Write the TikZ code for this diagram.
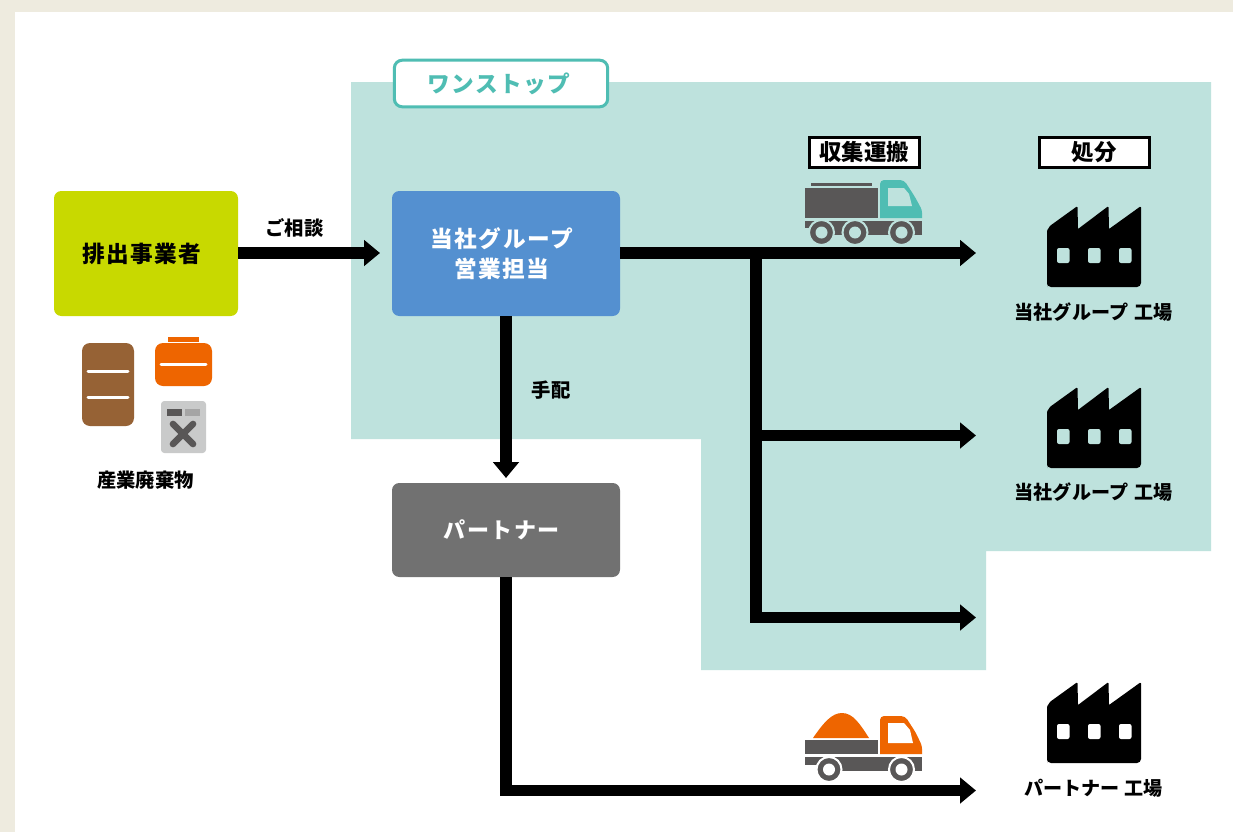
\documentclass[tikz,border=0pt]{standalone}
\usepackage{fontspec}
\usetikzlibrary{arrows.meta,calc}
\setmainfont{Noto Sans CJK JP}
\newfontfamily\wide[LetterSpace=6.5]{Noto Sans CJK JP}
\newcommand\padr{\hspace*{6.5pt}}
\definecolor{bgbeige}{HTML}{EEEBDF}
\definecolor{zone}{HTML}{BEE2DD}
\definecolor{tealc}{HTML}{4FBDB3}
\definecolor{lime}{HTML}{C8D900}
\definecolor{bluebox}{HTML}{5490D0}
\definecolor{graybox}{HTML}{717171}
\definecolor{orangec}{HTML}{EE6500}
\definecolor{brownc}{HTML}{966235}
\definecolor{truckgray}{HTML}{595757}
\definecolor{lightg}{HTML}{C9CACA}
\definecolor{midg}{HTML}{A5A5A5}
\tikzset{
  x=.75pt,y=-.75pt,
  mainbox/.style={rounded corners=5.5pt,inner sep=0pt,font=\wide\bfseries\fontsize{17}{22}\selectfont,align=center},
  tagbox/.style={draw=black,line width=2.25pt,fill=white,inner sep=0pt,minimum width=82.5pt,minimum height=22pt,font=\bfseries\fontsize{16.8}{20}\selectfont},
  flow/.style={line width=8.6pt,draw=black,-{Triangle[length=12pt,width=19pt]}},
  trunk/.style={line width=8.6pt,draw=black},
  lab/.style={font=\bfseries\fontsize{14.5}{17}\selectfont,inner sep=0pt},
  ftext/.style={font=\bfseries\fontsize{14.3}{17}\selectfont,inner sep=0pt},
  pics/factory/.style={code={
    \fill[black] (-47,76) [rounded corners=3pt] -- (-47,26) [rounded corners=4pt] -- (-47,21) [rounded corners=1pt] -- (-16.5,-1) -- (-16,22) [sharp corners] -- (-16,22) [rounded corners=1pt] -- (14.5,-1) -- (15,22) [sharp corners] -- (15,22) [rounded corners=1pt] -- (47,-1) [rounded corners=3pt] -- (47,80) -- (-47,80) -- cycle;
    \foreach \wx in {-37,-6,25}{\fill[#1,rounded corners=1.5pt] (\wx,41) rectangle ++(12.5,15);}
  }},
  wheel/.style={circle,fill=truckgray,draw=#1,line width=1.5pt,minimum size=18.75pt,inner sep=0pt},
}
\begin{document}
\begin{tikzpicture}
\useasboundingbox (0,0) rectangle (1233,832);
\fill[bgbeige] (0,0) rectangle (1233,832);
\fill[white] (15,12) rectangle (1233,832);
\fill[zone] (351,82) -- (1211,82) -- (1211,551) -- (986,551) -- (986,670) -- (701,670) -- (701,439) -- (351,439) -- cycle;

% boxes
\node[mainbox,fill=lime,text=black,minimum width=138pt,minimum height=93.75pt] (gen) at (146,253.5) {排出事業者\padr};
\node[mainbox,fill=bluebox,text=white,minimum width=171pt,minimum height=93.75pt] (sales) at (506,253.5) {当社グループ\padr\\営業担当\padr};
\node[mainbox,fill=graybox,text=white,minimum width=171pt,minimum height=70.5pt,font=\wide\bfseries\fontsize{16.5}{22}\selectfont] (partner) at (506,530) {パートナー\padr};
\node[draw=tealc,line width=2.25pt,fill=white,rounded corners=6pt,inner sep=0pt,minimum width=160pt,minimum height=35pt,text=tealc,font=\wide\bfseries\fontsize{17}{20}\selectfont] (onestop) at (501,83.5) {ワンストップ\hspace*{3.5pt}};
\node[tagbox] (tagc) at (864,152.5) {収集運搬};
\node[tagbox] (tagd) at (1094,152.5) {処分};

% connector targets
\coordinate (f1) at (976,253);
\coordinate (f2) at (976,435.5);
\coordinate (f3) at (976,617.5);
\coordinate (f4) at (976,790.5);
\coordinate (branch) at (756,253);
\coordinate (pcorner) at (506,790.5);

% connectors
\draw[flow] (gen.east |- f1) -- (380,253);
\draw[flow] (sales.east |- f1) -- (f1);
\draw[flow] (sales.south) -- (506,478);
\draw[flow] (branch |- f2) -- (f2);
\draw[trunk] (branch) -- ($(branch |- f3)+(0,5.7)$);
\draw[flow] (branch |- f3) -- (f3);
\draw[trunk] (partner.south) -- ($(pcorner)+(0,5.7)$);
\draw[flow] (pcorner) -- (f4);

% labels
\node[lab] (l1) at (294.5,228) {ご相談};
\node[lab] (l2) at (551,390) {手配};
\node[lab] (l3) at (145.5,480) {産業廃棄物};
\node[ftext] (t1) at (1093.5,312) {当社グループ\hspace{1.2pt} 工場};
\node[ftext] (t2) at (1093.5,492.5) {当社グループ\hspace{1.2pt} 工場};
\node[ftext] (t3) at (1093.5,788) {パートナー 工場};

% factories
\pic at (1094,207) {factory=zone};
\pic at (1094,388) {factory=zone};
\pic at (1094,683) {factory=white};

% waste icons
\fill[brownc,rounded corners=6pt] (82,343) rectangle (134,426);
\draw[white,line width=2.25pt,line cap=round] (88,371.5) -- (128,371.5) (88,397) -- (128,397);
\fill[orangec] (168,337) rectangle (199,342);
\fill[orangec,rounded corners=6pt] (155,343) rectangle (212,386);
\draw[white,line width=2.25pt,line cap=round] (161,364.5) -- (206,364.5);
\fill[lightg,rounded corners=2.5pt] (161,401) rectangle (206,453);
\fill[truckgray] (167,409) rectangle (182,416);
\fill[midg] (185,409) rectangle (200,416);
\draw[truckgray,line width=5pt,line cap=round] (173,424) -- (193,444) (193,424) -- (173,444);

% truck 1
\fill[truckgray] (811,183) rectangle (872,186);
\fill[truckgray] (805,188) rectangle (878,218);
\fill[tealc] (880,218) [rounded corners=3pt] -- (880,180) -- (904,180) -- (915,197) [rounded corners=2pt] -- (922,210) [sharp corners] -- (922,218) -- cycle;
\fill[zone] (888,188) -- (904,188) -- (909,194) -- (912,206) -- (888,206) -- cycle;
\fill[truckgray] (805,221) rectangle (922,228);
\fill[truckgray] (815,228) rectangle (922,235);
\node[wheel=zone] (w1) at (821.5,232.5) {};
\node[wheel=zone] (w2) at (855,232.5) {};
\node[wheel=zone] (w3) at (901.5,232.5) {};
\foreach \w in {w1,w2,w3}{\fill[zone] (\w) circle (6);}

% truck 2
\fill[orangec] (813,738) .. controls (824,722) and (832,713) .. (842,713) .. controls (853,713) and (860,724) .. (869,738) -- cycle;
\fill[truckgray] (805,740) rectangle (878,754);
\fill[orangec] (880,754) [rounded corners=3pt] -- (880,716) -- (905,716) -- (916,733) [rounded corners=2pt] -- (922,746) [sharp corners] -- (922,754) -- cycle;
\fill[white] (888,723) -- (904,723) -- (910,730) -- (913,743) -- (888,743) -- cycle;
\fill[truckgray] (805,757) rectangle (922,765);
\fill[truckgray] (820,765) rectangle (922,771);
\node[wheel=white] (w4) at (829,769.5) {};
\node[wheel=white] (w5) at (901.5,769.5) {};
\foreach \w in {w4,w5}{\fill[white] (\w) circle (6);}
\end{tikzpicture}
\end{document}
